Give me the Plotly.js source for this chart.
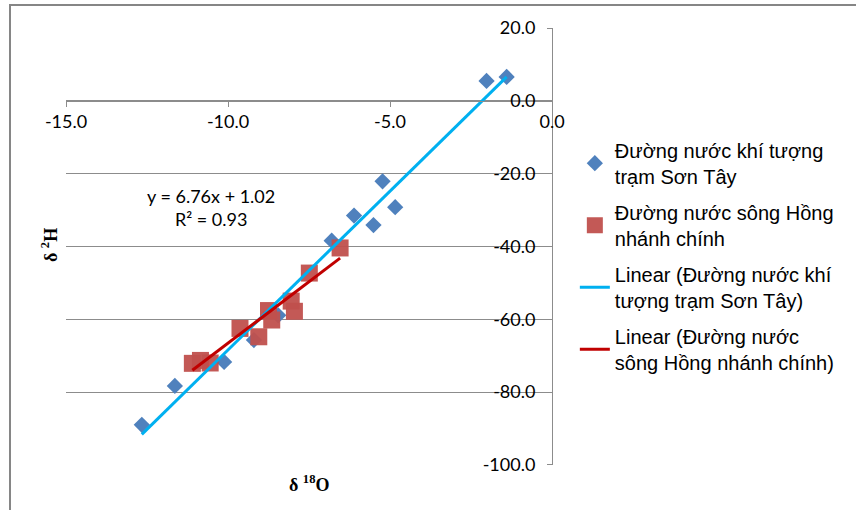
<!DOCTYPE html>
<html>
<head>
<meta charset="utf-8">
<script src="https://cdn.plot.ly/plotly-3.0.1.min.js"></script>
<style>html,body{margin:0;padding:0;background:#fff;}#chart{width:856px;height:510px;}</style>
</head>
<body>
<div id="chart"></div>
<script>
// Đường nước khí tượng trạm Sơn Tây (δ18O, δ2H)
const sonTayX = [-12.66, -11.64, -10.12, -9.2, -8.45, -6.8, -6.11, -5.51, -5.23, -4.84, -2.02, -1.4];
const sonTayY = [-89.0, -78.3, -71.7, -65.7, -58.9, -38.4, -31.5, -34.1, -22.1, -29.2, 5.5, 6.6];
// Đường nước sông Hồng nhánh chính
const hongX = [-11.1, -10.85, -10.55, -9.63, -9.05, -8.75, -8.65, -8.05, -7.95, -7.49, -6.54];
const hongY = [-72.1, -71.3, -72.0, -62.5, -64.8, -57.6, -60.2, -55.0, -57.8, -47.3, -40.4];
// trendline equation shown on chart (for sông Hồng)
const hongSlope = 6.76;
const hongIntercept = 1.02;
const eqLabel = "y = 6.76x + 1.02<br>R² = 0.93";
const seriesNames = [
  "Đường nước khí tượng<br>trạm Sơn Tây",
  "Đường nước sông Hồng<br>nhánh chính",
  "Linear (Đường nước khí<br>tượng trạm Sơn Tây)",
  "Linear (Đường nước<br>sông Hồng nhánh chính)"
];
const xTicks = [-15, -10, -5, 0];
const yTicks = [20, 0, -20, -40, -60, -80, -100];
const xTitle = "<b>δ <sup>18</sup>O</b>";
const yTitle = "<b>δ <sup>2</sup>H</b>";

function lsq(xs, ys) {
  const n = xs.length;
  const mx = xs.reduce((a, b) => a + b, 0) / n;
  const my = ys.reduce((a, b) => a + b, 0) / n;
  let sxy = 0, sxx = 0;
  for (let i = 0; i < n; i++) { sxy += (xs[i] - mx) * (ys[i] - my); sxx += (xs[i] - mx) ** 2; }
  const m = sxy / sxx;
  return [m, my - m * mx];
}
const [stM, stB] = lsq(sonTayX, sonTayY);
const stX0 = Math.min(...sonTayX), stX1 = Math.max(...sonTayX);
const hX0 = Math.min(...hongX), hX1 = Math.max(...hongX);

const tickFont = {family: "Lato, 'Open Sans', sans-serif", size: 18, color: "#000"};
const grid = "#8c8c8c";

const traces = [
  {x: sonTayX, y: sonTayY, type: "scatter", mode: "markers", name: seriesNames[0], legendgroup: "a",
   marker: {symbol: "diamond", size: 12.5, color: "#4F81BD"}},
  {x: hongX, y: hongY, type: "scatter", mode: "markers", name: seriesNames[1], legendgroup: "b",
   marker: {symbol: "square", size: 17, color: "#C0504D", opacity: 0.95}},
  {x: [stX0, stX1], y: [stM * stX0 + stB, stM * stX1 + stB], type: "scatter", mode: "lines", name: seriesNames[2], legendgroup: "c",
   line: {color: "#00B0F0", width: 3}},
  {x: [hX0, hX1], y: [hongSlope * hX0 + hongIntercept, hongSlope * hX1 + hongIntercept], type: "scatter", mode: "lines", name: seriesNames[3], legendgroup: "d",
   line: {color: "#C00000", width: 3}}
];

const layout = {
  width: 856, height: 510,
  margin: {l: 66, r: 304, t: 28, b: 45},
  paper_bgcolor: "#fff", plot_bgcolor: "#fff",
  showlegend: true,
  xaxis: {
    range: [-15, 0], tickvals: xTicks, ticktext: xTicks.map(v => v.toFixed(1)),
    anchor: "free", position: 100 / 120, showgrid: false, zeroline: false,
    showline: true, linecolor: grid, linewidth: 1, ticks: "outside", ticklen: 5, tickcolor: grid,
    tickfont: tickFont
  },
  yaxis: {
    range: [-100.03, 20.03], tickvals: yTicks, ticktext: yTicks.map(v => v.toFixed(1)),
    side: "left", anchor: "free", position: 1, showgrid: true, gridcolor: grid, gridwidth: 1,
    zeroline: false, showline: true, linecolor: grid, linewidth: 1, ticks: "outside", ticklen: 5, tickcolor: grid,
    ticklabelstandoff: 8,
    tickfont: tickFont
  },
  legend: {
    x: 1.047, xanchor: "left", y: 0.765, yanchor: "top",
    traceorder: "grouped", tracegroupgap: 7,
    font: {family: "'Liberation Sans', Arial, sans-serif", size: 20, color: "#000"},
    bgcolor: "rgba(0,0,0,0)"
  },
  annotations: [
    {text: eqLabel, xref: "paper", yref: "paper", x: (211 - 66) / 486, y: (465 - 207) / 437,
     xanchor: "center", yanchor: "middle", showarrow: false, align: "center",
     font: {family: "Lato, 'Open Sans', sans-serif", size: 18, color: "#000"}},
    {text: xTitle, xref: "paper", yref: "paper", x: 0.5, y: (465 - 483) / 437,
     xanchor: "center", yanchor: "middle", showarrow: false,
     font: {family: "'Liberation Serif', serif", size: 18, color: "#000"}},
    {text: yTitle, xref: "paper", yref: "paper", x: (50 - 66) / 486, y: (465 - 245) / 437,
     xanchor: "center", yanchor: "middle", showarrow: false, textangle: -90,
     font: {family: "'Liberation Serif', serif", size: 18, color: "#000"}}
  ],
  shapes: [
    {type: "path", xref: "paper", yref: "paper",
     path: "M " + ((10 - 66) / 486) + "," + ((465 - 512) / 437) + " L " + ((10 - 66) / 486) + "," + ((465 - 5) / 437) +
           " L " + ((860 - 66) / 486) + "," + ((465 - 5) / 437),
     line: {color: "#868686", width: 2}}
  ]
};

Plotly.newPlot("chart", traces, layout, {displayModeBar: false, staticPlot: true});
</script>
</body>
</html>
